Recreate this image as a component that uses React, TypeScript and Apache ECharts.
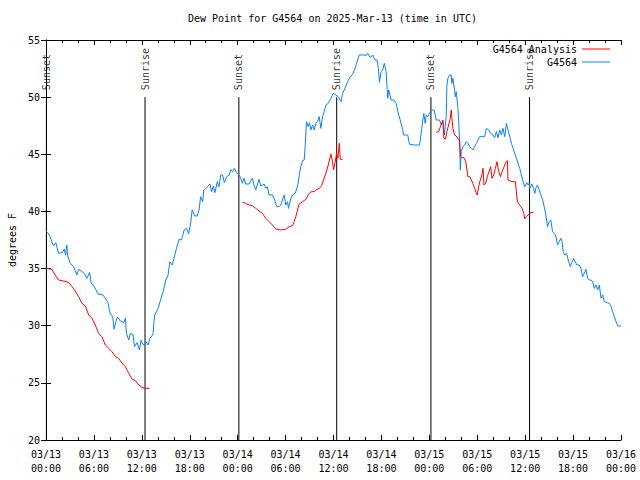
import React, { useEffect, useRef } from 'react';
import * as echarts from 'echarts';

const titleText = 'Dew Point for G4564 on 2025-Mar-13 (time in UTC)';
const yAxisName = 'degrees F';
const xTickLabels = [
  '03/13\n00:00', '03/13\n06:00', '03/13\n12:00', '03/13\n18:00',
  '03/14\n00:00', '03/14\n06:00', '03/14\n12:00', '03/14\n18:00',
  '03/15\n00:00', '03/15\n06:00', '03/15\n12:00', '03/15\n18:00',
  '03/16\n00:00',
];
const stationName = 'G4564';
const analysisName = 'G4564 Analysis';

// hours since 03/13 00:00 UTC, dew point (F)
const stationData: [number, number][] = [
  [0.0, 38.3], [0.19, 38.17], [0.52, 37.79], [0.73, 37.35], [0.94, 36.98], [1.23, 37.27], [1.57, 36.33], [2.07, 36.42], [2.28, 36.69], [2.45, 36.2], [2.61, 37.06], [2.7, 36.13], [3.04, 35.46], [3.45, 35.17], [3.87, 34.44], [4.08, 34.93], [4.5, 34.73], [4.79, 34.58], [5.13, 34.15], [5.46, 34.67], [5.67, 33.71], [6.05, 33.42], [6.51, 32.78], [7.13, 32.69], [7.51, 32.31], [7.76, 32.01], [7.93, 31.38], [8.06, 31.03], [8.35, 30.79], [8.52, 29.69], [8.81, 30.5], [8.98, 30.74], [9.31, 30.41], [9.73, 30.27], [9.94, 30.65], [10.07, 29.33], [10.36, 28.75], [10.57, 29.33], [10.9, 29.19], [11.07, 28.17], [11.4, 28.52], [11.7, 27.88], [11.9, 28.75], [12.1, 28.4], [12.37, 28.31], [12.55, 28.6], [12.78, 28.31], [13.0, 28.9], [13.2, 29.04], [13.41, 29.33], [13.5, 30.21], [13.62, 30.94], [14.04, 31.52], [14.34, 32.25], [14.67, 32.98], [15.0, 34.0], [15.29, 34.44], [15.5, 35.6], [15.8, 35.31], [16.13, 36.19], [16.34, 36.77], [16.67, 37.56], [16.97, 37.5], [17.3, 38.38], [17.6, 38.52], [17.85, 38.02], [18.14, 39.1], [18.3, 40.13], [18.64, 39.6], [18.94, 39.6], [19.18, 40.19], [19.36, 41.29], [19.61, 40.85], [19.77, 41.88], [20.02, 42.02], [20.32, 42.22], [20.53, 42.4], [20.74, 41.73], [20.95, 42.22], [21.15, 41.64], [21.45, 42.6], [21.66, 42.16], [21.87, 43.19], [22.12, 43.19], [22.33, 42.52], [22.62, 43.04], [22.95, 43.19], [23.12, 43.63], [23.37, 43.48], [23.58, 43.77], [23.87, 43.39], [24.2, 43.19], [24.38, 42.9], [24.59, 42.46], [24.8, 42.9], [25.0, 42.4], [25.42, 42.4], [25.84, 42.9], [26.05, 42.31], [26.26, 41.88], [26.68, 42.81], [26.89, 42.22], [27.31, 42.4], [27.52, 42.02], [27.72, 42.16], [27.93, 41.44], [28.35, 41.44], [28.56, 41.15], [28.9, 40.42], [29.19, 40.42], [29.4, 40.56], [29.61, 41.0], [29.82, 41.44], [30.03, 40.56], [30.24, 40.85], [30.36, 40.27], [30.66, 41.15], [30.86, 41.44], [31.2, 41.58], [31.41, 42.02], [31.58, 42.46], [31.74, 43.33], [31.91, 43.92], [32.12, 44.44], [32.33, 44.5], [32.45, 45.67], [32.62, 47.85], [32.83, 47.42], [33.0, 47.77], [33.17, 47.13], [33.38, 47.56], [33.58, 47.13], [33.8, 47.71], [34.0, 47.85], [34.21, 48.29], [34.42, 47.27], [34.63, 48.29], [34.84, 48.73], [35.05, 49.31], [35.34, 49.46], [35.68, 49.9], [35.97, 50.33], [36.31, 50.19], [36.6, 50.04], [36.72, 49.9], [36.94, 49.6], [37.14, 50.33], [37.44, 50.77], [37.77, 51.35], [38.1, 51.79], [38.39, 52.0], [38.7, 52.52], [39.02, 53.25], [39.23, 53.69], [39.86, 53.69], [40.07, 53.63], [40.28, 53.83], [40.62, 53.45], [40.9, 53.69], [41.2, 53.25], [41.46, 53.25], [41.62, 52.52], [41.75, 51.29], [41.96, 52.23], [42.16, 52.38], [42.37, 52.96], [42.59, 52.23], [42.71, 50.77], [42.79, 49.9], [42.91, 50.63], [43.21, 49.75], [43.55, 49.75], [43.85, 49.46], [44.05, 48.73], [44.35, 48.0], [44.67, 47.13], [44.76, 46.69], [45.3, 46.69], [45.51, 45.88], [46.14, 45.81], [46.77, 45.81], [46.89, 46.4], [47.06, 47.27], [47.18, 48.0], [47.31, 48.58], [47.48, 47.71], [47.61, 48.44], [47.81, 48.29], [48.02, 48.58], [48.24, 48.87], [48.6, 48.87], [48.86, 48.0], [49.28, 48.0], [49.49, 47.56], [49.7, 47.85], [49.9, 46.69], [49.98, 47.42], [50.12, 48.29], [50.2, 51.06], [50.32, 51.65], [50.53, 51.94], [50.74, 51.94], [50.82, 51.21], [50.95, 51.65], [51.16, 50.63], [51.25, 50.04], [51.37, 50.48], [51.58, 49.02], [51.7, 47.56], [51.79, 46.1], [51.88, 43.63], [52.0, 45.23], [52.21, 45.67], [52.42, 45.81], [52.63, 46.1], [52.83, 45.96], [53.05, 45.67], [53.26, 45.52], [53.46, 45.38], [53.67, 45.67], [53.89, 45.96], [54.09, 46.25], [54.3, 46.54], [54.93, 46.54], [55.14, 47.27], [55.43, 47.13], [55.68, 46.83], [55.97, 46.69], [56.18, 46.45], [56.4, 46.98], [56.6, 46.45], [56.81, 47.13], [57.02, 46.69], [57.23, 47.27], [57.44, 46.54], [57.65, 47.71], [57.85, 47.13], [58.07, 46.54], [58.28, 45.96], [58.48, 45.52], [58.69, 45.09], [58.9, 44.65], [59.11, 44.21], [59.32, 43.77], [59.53, 43.19], [59.74, 42.6], [59.95, 42.16], [60.2, 42.52], [60.36, 42.31], [60.49, 42.46], [60.58, 42.02], [60.7, 42.16], [60.83, 42.4], [61.04, 42.02], [61.21, 41.58], [61.33, 42.02], [61.54, 42.31], [61.75, 41.88], [61.96, 41.44], [62.17, 41.06], [62.38, 40.42], [62.59, 39.69], [62.8, 38.67], [63.0, 39.1], [63.21, 39.25], [63.43, 38.23], [63.63, 38.08], [63.84, 37.85], [64.05, 37.06], [64.26, 37.35], [64.47, 37.65], [64.62, 37.35], [64.76, 36.48], [64.97, 36.19], [65.18, 36.33], [65.39, 35.75], [65.64, 35.17], [65.85, 35.52], [66.06, 35.9], [66.27, 35.6], [66.48, 35.31], [66.77, 35.31], [66.98, 35.02], [67.19, 34.29], [67.4, 34.58], [67.61, 34.93], [67.82, 34.15], [68.03, 34.0], [68.24, 34.0], [68.45, 33.85], [68.65, 33.27], [68.86, 33.56], [69.08, 33.13], [69.29, 33.56], [69.5, 32.4], [69.71, 32.69], [69.91, 32.1], [70.33, 32.01], [70.54, 31.96], [70.75, 31.67], [70.96, 31.23], [71.17, 30.79], [71.38, 30.35], [71.59, 29.98], [72.0, 29.98],
];

const analysisSeg1: [number, number][] = [
  [0.0, 35.02], [0.1, 35.02], [0.73, 34.93], [1.15, 34.44], [1.57, 34.0], [2.2, 33.91], [2.82, 33.8], [3.24, 33.42], [3.66, 33.04], [4.08, 32.54], [4.5, 31.96], [4.92, 31.73], [5.34, 30.94], [5.75, 30.65], [6.17, 30.06], [6.59, 29.33], [7.0, 29.04], [7.43, 28.31], [7.85, 28.02], [8.26, 27.73], [8.69, 27.29], [9.1, 27.15], [9.52, 26.71], [9.94, 26.42], [10.36, 25.83], [10.77, 25.34], [11.2, 25.19], [11.61, 24.81], [12.03, 24.6], [12.45, 24.52], [12.96, 24.52],
];
const analysisSeg2: [number, number][] = [
  [24.58, 40.8], [25.0, 40.71], [25.42, 40.56], [25.84, 40.5], [26.26, 40.27], [26.68, 40.04], [27.1, 39.83], [27.52, 39.4], [27.94, 39.1], [28.35, 38.81], [28.77, 38.46], [29.4, 38.38], [30.03, 38.44], [30.44, 38.67], [30.86, 38.75], [31.07, 39.1], [31.28, 39.54], [31.49, 40.13], [31.7, 40.65], [32.12, 40.85], [32.54, 41.06], [32.96, 41.58], [33.25, 41.73], [33.58, 41.73], [33.8, 41.88], [34.21, 42.02], [34.5, 42.22], [34.75, 42.75], [35.05, 43.33], [35.34, 44.06], [35.68, 45.02], [35.88, 44.35], [36.0, 43.63], [36.22, 44.35], [36.39, 45.08], [36.55, 44.65], [36.72, 45.96], [36.85, 44.56], [37.14, 44.56],
];
const analysisSeg3: [number, number][] = [
  [48.86, 46.92], [49.15, 46.98], [49.4, 47.42], [49.7, 48.0], [49.82, 46.4], [50.03, 46.34], [50.2, 46.98], [50.41, 47.56], [50.62, 48.15], [50.75, 48.88], [50.83, 48.15], [50.95, 47.27], [51.16, 46.69], [51.37, 46.6], [51.58, 46.4], [51.79, 46.16], [51.92, 44.79], [52.09, 44.7], [52.34, 44.7], [52.56, 44.35], [52.83, 43.04], [53.05, 43.04], [53.26, 42.75], [53.46, 42.46], [53.67, 42.02], [53.89, 41.58], [54.0, 41.44], [54.17, 42.16], [54.38, 42.75], [54.59, 43.19], [54.72, 43.77], [54.84, 42.31], [55.05, 42.46], [55.26, 43.04], [55.47, 43.48], [55.68, 43.92], [55.84, 42.9], [56.06, 43.19], [56.27, 43.77], [56.47, 44.35], [56.69, 43.48], [56.9, 43.04], [57.11, 43.48], [57.36, 43.92], [57.57, 44.29], [57.78, 44.44], [57.85, 42.75], [58.35, 42.6], [58.78, 42.6], [58.9, 41.73], [59.03, 40.85], [59.32, 40.56], [59.61, 40.27], [59.82, 39.83], [59.95, 39.35], [60.16, 39.54], [60.36, 39.69], [60.7, 39.88], [61.04, 39.92],
];

const sunsetHours = [0.05, 24.15, 48.2];
const sunriseHours = [12.4, 36.4, 60.55];
const eventLineBottom = 20;
const eventLineTop = 50;

const FONT = "'DejaVu Sans Mono', 'Liberation Mono', monospace";

export default function App() {
  const ref = useRef<HTMLDivElement>(null);
  useEffect(() => {
    if (!ref.current) return;
    const chart = echarts.init(ref.current, null, { renderer: 'svg' });

    const analysisData: any[] = [
      ...analysisSeg1, [13.5, '-'],
      ...analysisSeg2, [40, '-'],
      ...analysisSeg3,
    ];
    const events = [
      ...sunsetHours.map((h) => ({ h, name: 'Sunset' })),
      ...sunriseHours.map((h) => ({ h, name: 'Sunrise' })),
    ];
    const eventLineData: any[] = [];
    events.forEach((e) => {
      eventLineData.push([e.h, eventLineBottom], [e.h, eventLineTop], [e.h, '-']);
    });

    const axisLine = { show: true, lineStyle: { color: '#000', width: 1 } };
    const labelStyle = { color: '#000', fontFamily: FONT, fontSize: 10 };
    const legendBase = {
      orient: 'vertical',
      align: 'right',
      right: 30,
      itemWidth: 28,
      itemHeight: 1,
      icon: 'rect',
      padding: 0,
      textStyle: labelStyle,
      selectedMode: false,
    };

    chart.setOption({
      animation: false,
      backgroundColor: '#fff',
      title: {
        text: titleText,
        left: 188,
        top: 13,
        padding: 0,
        textStyle: { ...labelStyle, fontWeight: 'normal' },
      },
      legend: [
        { ...legendBase, data: [analysisName], top: 44 },
        { ...legendBase, data: [stationName], top: 57 },
      ],
      grid: {
        left: 46,
        right: 19,
        top: 40,
        bottom: 40,
        containLabel: false,
        outerBoundsMode: 'none',
      },
      xAxis: [
        {
          type: 'value',
          min: 0,
          max: 72,
          interval: 6,
          position: 'bottom',
          axisLine,
          axisTick: { show: true, inside: true, length: 5, lineStyle: { color: '#000' } },
          minorTick: { show: true, splitNumber: 3, length: 3, lineStyle: { color: '#000' } },
          splitLine: { show: false },
          axisLabel: {
            ...labelStyle,
            margin: 7,
            lineHeight: 14,
            formatter: (v: number) => xTickLabels[Math.round(v / 6)] ?? '',
          },
        },
        {
          type: 'value',
          min: 0,
          max: 72,
          interval: 6,
          position: 'top',
          axisLine,
          axisTick: { show: true, inside: true, length: 5, lineStyle: { color: '#000' } },
          minorTick: { show: true, splitNumber: 3, length: 3, lineStyle: { color: '#000' } },
          splitLine: { show: false },
          axisLabel: { show: false },
        },
      ],
      yAxis: [
        {
          type: 'value',
          min: 20,
          max: 55,
          interval: 5,
          position: 'left',
          name: yAxisName,
          nameLocation: 'middle',
          nameGap: 29,
          nameTextStyle: labelStyle,
          axisLine,
          axisTick: { show: true, inside: true, length: 5, lineStyle: { color: '#000' } },
          splitLine: { show: false },
          axisLabel: { ...labelStyle, margin: 6 },
        },
        {
          type: 'value',
          min: 20,
          max: 55,
          interval: 5,
          position: 'right',
          axisLine,
          axisTick: { show: true, inside: true, length: 5, lineStyle: { color: '#000' } },
          splitLine: { show: false },
          axisLabel: { show: false },
        },
      ],
      series: [
        {
          name: 'events',
          type: 'line',
          data: eventLineData,
          symbol: 'none',
          silent: true,
          connectNulls: false,
          lineStyle: { color: '#000', width: 1 },
          z: 1,
        },
        {
          name: 'eventLabels',
          type: 'scatter',
          data: events.map((e) => ({ value: [e.h, eventLineTop], name: e.name })),
          symbolSize: 0,
          silent: true,
          label: {
            show: true,
            formatter: (p: any) => p.name,
            position: 'top',
            distance: 7,
            rotate: 90,
            align: 'left',
            verticalAlign: 'middle',
            ...labelStyle,
          },
          z: 1,
        },
        {
          name: analysisName,
          type: 'line',
          data: analysisData,
          symbol: 'none',
          connectNulls: false,
          color: '#ff0000',
          lineStyle: { color: '#ff0000', width: 1 },
          z: 3,
        },
        {
          name: stationName,
          type: 'line',
          data: stationData,
          symbol: 'none',
          color: '#0a80ff',
          lineStyle: { color: '#0a80ff', width: 1 },
          z: 2,
        },
      ],
    });
    return () => chart.dispose();
  }, []);
  return (
    <div
      ref={ref}
      style={{ position: 'absolute', left: 0, top: 0, width: 640, height: 480 }}
    />
  );
}
